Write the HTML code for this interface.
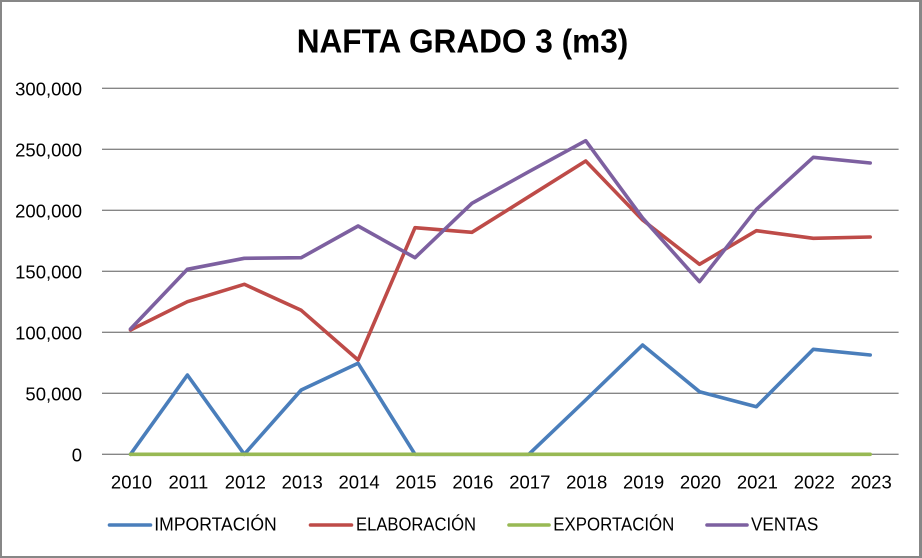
<!DOCTYPE html>
<html>
<head>
<meta charset="utf-8">
<style>
html,body{margin:0;padding:0;background:#fff;}
#c{position:relative;width:922px;height:558px;box-sizing:border-box;border-style:solid;border-color:#878787;border-width:2px 3px 2.5px 2px;background:#fff;overflow:hidden;}
svg{position:absolute;left:-2px;top:-2px;}
text{font-family:"Liberation Sans",Arial,sans-serif;fill:#000;}
</style>
</head>
<body>
<div id="c">
<svg width="922" height="558" viewBox="0 0 922 558" xmlns="http://www.w3.org/2000/svg">
  <text x="296.7" y="52.3" font-size="33.5" font-weight="bold" textLength="331.6" lengthAdjust="spacingAndGlyphs">NAFTA GRADO 3 (m3)</text>

  <g stroke="#868686" stroke-width="1.3">
    <line x1="102" y1="88.3" x2="898.6" y2="88.3"/>
    <line x1="102" y1="149.3" x2="898.6" y2="149.3"/>
    <line x1="102" y1="210.3" x2="898.6" y2="210.3"/>
    <line x1="102" y1="271.3" x2="898.6" y2="271.3"/>
    <line x1="102" y1="332.3" x2="898.6" y2="332.3"/>
    <line x1="102" y1="393.3" x2="898.6" y2="393.3"/>
    <line x1="102" y1="454.3" x2="898.6" y2="454.3"/>
  </g>

  <g font-size="18.5" text-anchor="end">
    <text x="82" y="95.5">300,000</text>
    <text x="82" y="156.5">250,000</text>
    <text x="82" y="217.5">200,000</text>
    <text x="82" y="278.5">150,000</text>
    <text x="82" y="339.5">100,000</text>
    <text x="82" y="400.5">50,000</text>
    <text x="82" y="461.5">0</text>
  </g>

  <g font-size="18.5" text-anchor="middle">
    <text x="131.5" y="488.3">2010</text>
    <text x="188.4" y="488.3">2011</text>
    <text x="245.3" y="488.3">2012</text>
    <text x="302.2" y="488.3">2013</text>
    <text x="359.1" y="488.3">2014</text>
    <text x="416" y="488.3">2015</text>
    <text x="472.9" y="488.3">2016</text>
    <text x="529.8" y="488.3">2017</text>
    <text x="586.7" y="488.3">2018</text>
    <text x="643.6" y="488.3">2019</text>
    <text x="700.5" y="488.3">2020</text>
    <text x="757.4" y="488.3">2021</text>
    <text x="814.3" y="488.3">2022</text>
    <text x="871.2" y="488.3">2023</text>
  </g>

  <g fill="none" stroke-width="3.6" stroke-linejoin="round" stroke-linecap="round">
    <polyline stroke="#4A7EBB" points="130.5,454.3 187.4,375 244.3,454.3 301.2,390 358.1,363.3 415,454.3 471.9,454.3 528.8,454.3 585.7,400 642.6,345 699.5,391.7 756.4,406.7 813.3,349.3 870.2,355"/>
    <polyline stroke="#BE4B48" points="130.5,330 187.4,301.7 244.3,284.3 301.2,310.3 358.1,360 415,227.7 471.9,232.3 528.8,196.7 585.7,161 642.6,220 699.5,264.3 756.4,230.7 813.3,238.3 870.2,237"/>
    <polyline stroke="#98B954" points="130.5,454.3 870.2,454.3"/>
    <polyline stroke="#7D60A0" points="130.5,329 187.4,269.3 244.3,258.3 301.2,257.7 358.1,226 415,257.7 471.9,203.3 528.8,171.7 585.7,140.7 642.6,218 699.5,281.7 756.4,209.3 813.3,157.3 870.2,163"/>
  </g>

  <g stroke-width="3.6" stroke-linecap="round">
    <line x1="109.5" y1="525" x2="150.5" y2="525" stroke="#4A7EBB"/>
    <line x1="310.5" y1="525" x2="351.5" y2="525" stroke="#BE4B48"/>
    <line x1="509" y1="525" x2="549" y2="525" stroke="#98B954"/>
    <line x1="707" y1="525" x2="747" y2="525" stroke="#7D60A0"/>
  </g>
  <g font-size="18.5">
    <text x="154.3" y="530.7" textLength="122.4" lengthAdjust="spacingAndGlyphs">IMPORTACIÓN</text>
    <text x="356" y="530.7" textLength="120" lengthAdjust="spacingAndGlyphs">ELABORACIÓN</text>
    <text x="553.3" y="530.7" textLength="121" lengthAdjust="spacingAndGlyphs">EXPORTACIÓN</text>
    <text x="751" y="530.7" textLength="67.3" lengthAdjust="spacingAndGlyphs">VENTAS</text>
  </g>
</svg>
</div>
</body>
</html>
